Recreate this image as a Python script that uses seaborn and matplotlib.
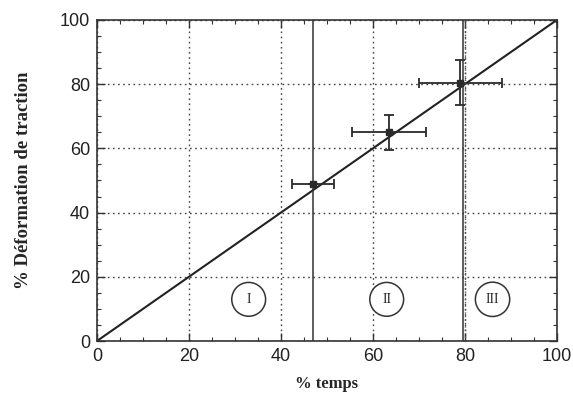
import numpy as np
import pandas as pd
import matplotlib
matplotlib.use("Agg")
import matplotlib.pyplot as plt
import seaborn as sns
from matplotlib.ticker import MultipleLocator

# donnees
temps = [47, 63.5, 79]
deformation = [49, 65, 80.5]
err_temps = [4.5, 8, 9]
err_def = [0, 5.5, 7]
ligne_x = [0, 100]
ligne_y = [0, 100]
limites = [47, 79.5]
zones = ["I", "II", "III"]
zones_x = [33, 63, 86]
zones_y = [13, 13, 13]

sns.set_theme(style="white")
plt.rcParams["font.family"] = ["Liberation Sans", "DejaVu Sans"]

fig = plt.figure(figsize=(5.73, 3.98), dpi=100)
ax = fig.add_axes([0.169, 0.143, 0.803, 0.807])

df = pd.DataFrame({"x": ligne_x, "y": ligne_y})
sns.lineplot(data=df, x="x", y="y", ax=ax, color="#222222", linewidth=1.5,
             marker="o", markersize=4, markeredgewidth=0)

ax.errorbar(temps, deformation, xerr=err_temps, yerr=err_def, fmt="s",
            color="#2a2a2a", markersize=4, elinewidth=1.3, capsize=3.5,
            capthick=1.3)

for x in limites:
    ax.axvline(x, color="#333333", linewidth=1.1)
ax.axvline(80, color="#555555", linewidth=1.0, linestyle=(0, (1, 1.5)))

for lab, x, y in zip(zones, zones_x, zones_y):
    ax.text(x, y, lab, ha="center", va="center", fontsize=10,
            family=["Liberation Serif", "DejaVu Serif"],
            bbox=dict(boxstyle="circle,pad=0.75", fc="white", ec="#333333", lw=1.1))

ax.set_xlim(0, 100)
ax.set_ylim(0, 100)
ax.xaxis.set_major_locator(MultipleLocator(20))
ax.yaxis.set_major_locator(MultipleLocator(20))
ax.xaxis.set_minor_locator(MultipleLocator(5))
ax.yaxis.set_minor_locator(MultipleLocator(5))
ax.tick_params(which="both", direction="in", top=True, right=True,
               bottom=True, left=True, color="#333333")
ax.tick_params(which="major", length=6, width=1, labelsize=13, pad=5,
               labelcolor="#222222")
ax.tick_params(which="minor", length=3, width=0.8)
ax.grid(True, which="major", color="#444444", linestyle=(0, (1.2, 2.5)),
        linewidth=1.0)
for s in ax.spines.values():
    s.set_color("#333333")
    s.set_linewidth(1.2)

ax.set_xlabel("% temps", fontsize=12, fontweight="bold",
              family=["Liberation Serif", "DejaVu Serif"], labelpad=8)
ax.set_ylabel("% Déformation de traction", fontsize=13.5, fontweight="bold",
              family=["Liberation Serif", "DejaVu Serif"], labelpad=20)

fig.savefig("out.png", dpi=100, facecolor="white")
